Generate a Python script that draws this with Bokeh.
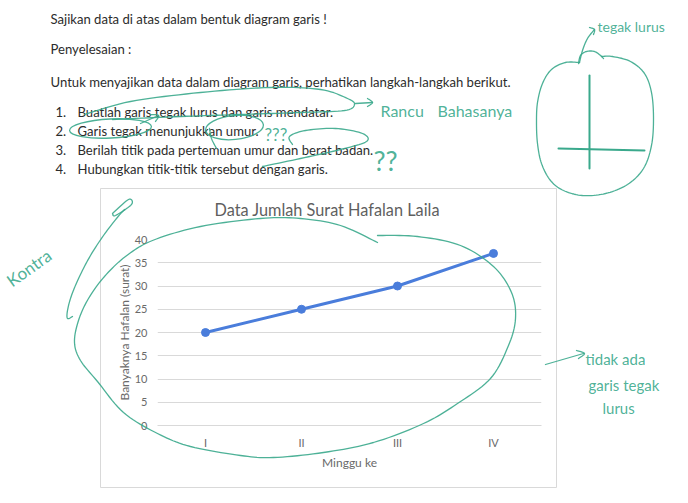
import numpy as np
from bokeh.plotting import figure
from bokeh.models import Range1d, FactorRange, FixedTicker
from bokeh.layouts import column
from bokeh.embed import file_html
from bokeh.resources import INLINE
from bokeh.core.properties import value

# ---- chart data -------------------------------------------------------
weeks = ["I", "II", "III", "IV"]
surat = [20, 25, 30, 37]
y_ticks = [0, 5, 10, 15, 20, 25, 30, 35, 40]

chart_title = "Data Jumlah Surat Hafalan Laila"
x_title = "Minggu ke"
y_title = "Banyaknya Hafalan (surat)"

# ---- worksheet text ---------------------------------------------------
heading = "Sajikan data di atas dalam bentuk diagram garis !"
answer_label = "Penyelesaian :"
intro = "Untuk menyajikan data dalam diagram garis, perhatikan langkah-langkah berikut."
steps = [
    "Buatlah garis tegak lurus dan garis mendatar.",
    "Garis tegak menunjukkan umur.",
    "Berilah titik pada pertemuan umur dan berat badan.",
    "Hubungkan titik-titik tersebut dengan garis.",
]

# ---- handwritten notes (pen strokes in page pixels) -------------------
notes = [
    ("tegak lurus", 597, 26, 14, 0.0),
    ("Rancu", 380, 110, 16, 0.0),
    ("Bahasanya", 437, 110, 16, 0.0),
    ("???", 264, 134, 17, 0.0),
    ("??", 373, 160, 27, 0.0),
    ("Kontra", 8, 282, 17, 0.62),
    ("tidak ada", 585, 358, 15, 0.0),
    ("garis tegak", 588, 384, 15, 0.0),
    ("lurus", 602, 407, 15, 0.0),
]

strokes = {
    "chart_loop": [(377, 242), (340, 225), (300, 218), (260, 218), (200, 226), (152, 240),
                   (125, 256), (104, 276), (88, 298), (78, 320), (74, 342), (80, 360),
                   (97, 381), (123, 412), (157, 433), (190, 446), (240, 455), (273, 457),
                   (323, 452), (373, 442), (423, 423), (457, 403), (490, 378), (508, 345),
                   (515, 318), (511, 292), (493, 266), (460, 245), (417, 236), (377, 235)],
    "kontra_arrow": [(72, 316), (67, 318), (67, 310), (71, 295), (79, 276), (90, 255),
                     (103, 235), (116, 218), (124, 209)],
    "kontra_head": [(112, 213), (128, 199), (131, 204), (115, 215), (112, 213)],
    "axes_blob": [(579, 62), (565, 62), (551, 69), (542, 83), (537, 102), (536, 122),
                  (537, 143), (541, 163), (550, 180), (563, 190), (582, 195), (605, 193),
                  (627, 184), (643, 168), (651, 145), (653, 118), (651, 92), (644, 73),
                  (630, 61), (612, 56), (601, 56)],
    "blob_hook": [(578, 63), (580, 55), (586, 51), (594, 51), (600, 55), (603, 58)],
    "tegak_arrow": [(579, 62), (582, 50), (587, 38), (594, 29)],
    "tegak_head": [(589, 27), (594, 29), (593, 34)],
    "item1_loop": [(84, 114), (130, 101), (200, 92), (270, 87), (320, 89), (347, 98),
                   (354, 104), (344, 110), (300, 112), (240, 114), (180, 116), (112, 119)],
    "item1_arrow": [(140, 123), (158, 115)],
    "item1_head": [(150, 114), (158, 115), (155, 121)],
    "rancu_arrow": [(355, 103), (372, 102)],
    "rancu_head": [(367, 98), (372, 102), (367, 106)],
    "umur_tail": [(209, 128), (211, 138), (216, 148)],
    "badan_loop": [(262, 166), (300, 158), (340, 149), (366, 141), (362, 133), (335, 128),
                   (305, 130), (289, 136), (292, 144)],
    "note_arrow": [(545, 364), (583, 353)],
    "note_head": [(576, 350), (584, 353), (578, 358)],
}
cross_strokes = {
    "vertical": [(589, 75), (589, 168)],
    "horizontal": [(558, 148), (644, 150)],
}
ellipses = [  # cx, cy, w, h, angle
    (110, 128, 82, 19, 0.05),
    (234, 127, 58, 24, 0.1),
]

W, H = 688, 503
BOX_L, BOX_T, BOX_R, BOX_B = 100, 188, 556, 487
CHART_TOP = 170          # chart canvas starts a little above its frame box
FRAME_TOP = 239
INK = "#3aa98c"
TEXT = "#2c2c2c"
AXIS_TEXT = "#6a6a6a"
FONT = "Lato"
BODY_SIZE = "13.1px"


def smooth(points, n=10):
    """Catmull-Rom pass through the pen points so strokes look hand drawn."""
    pts = np.asarray(points, dtype=float)
    if len(pts) < 3:
        return pts[:, 0], pts[:, 1]
    P = np.vstack([pts[0], pts, pts[-1]])
    out = []
    for i in range(1, len(P) - 2):
        p0, p1, p2, p3 = P[i - 1], P[i], P[i + 1], P[i + 2]
        for t in np.linspace(0, 1, n, endpoint=False):
            t2, t3 = t * t, t * t * t
            out.append(0.5 * (2 * p1 + (-p0 + p2) * t
                              + (2 * p0 - 5 * p1 + 4 * p2 - p3) * t2
                              + (-p0 + 3 * p1 - 3 * p2 + p3) * t3))
    out.append(P[-2])
    out = np.array(out)
    return out[:, 0], out[:, 1]


# ---- the line chart ----------------------------------------------------
chart = figure(width=BOX_R - BOX_L, height=BOX_B - CHART_TOP,
               x_range=FactorRange(*weeks, range_padding=0),
               y_range=Range1d(0, 40),
               output_backend="svg", toolbar_location=None,
               min_border_left=57, min_border_right=15,
               min_border_top=FRAME_TOP - CHART_TOP, min_border_bottom=62)
chart.frame_align = False
chart.outline_line_color = None
chart.background_fill_color = "white"
chart.border_fill_color = "white"

chart.title.text = chart_title
chart.title.align = "left"
chart.title.offset = 57
chart.title.standoff = 42
chart.title.text_font = FONT
chart.title.text_font_size = "16.3px"
chart.title.text_font_style = "normal"
chart.title.text_color = "#5f5f5f"

for ax in (chart.xaxis[0], chart.yaxis[0]):
    ax.major_tick_line_color = None
    ax.minor_tick_line_color = None
    ax.major_tick_out = 0
    ax.major_tick_in = 0
    ax.major_label_text_font = FONT
    ax.major_label_text_font_size = "11px"
    ax.major_label_text_color = AXIS_TEXT
    ax.axis_label_text_font = FONT
    ax.axis_label_text_font_size = "12px"
    ax.axis_label_text_font_style = "normal"
    ax.axis_label_text_color = AXIS_TEXT

chart.yaxis.ticker = FixedTicker(ticks=y_ticks)
chart.yaxis.axis_line_color = None
chart.yaxis.major_label_standoff = 10
chart.yaxis.axis_label = y_title
chart.yaxis.axis_label_standoff = 0

chart.xaxis.axis_line_color = "#d9d9d9"
chart.xaxis.major_label_standoff = 10
chart.xaxis.axis_label = x_title
chart.xaxis.axis_label_standoff = 3

chart.xgrid.visible = False
chart.ygrid.ticker = FixedTicker(ticks=y_ticks)
chart.ygrid.grid_line_color = "#d9d9d9"

chart.line(weeks, surat, line_width=3, line_color="#4a7ddb", line_cap="round")
chart.scatter(weeks, surat, size=8, fill_color="#4a7ddb", line_color="#4a7ddb")

# ---- the worksheet page (pixel coordinates, y downwards) ---------------
page = figure(width=W, height=H, x_range=Range1d(0, W), y_range=Range1d(H, 0),
              x_axis_location=None, y_axis_location=None,
              output_backend="svg", toolbar_location=None, min_border=0)
page.frame_align = False
page.grid.visible = False
page.outline_line_color = None
page.background_fill_alpha = 0
page.border_fill_alpha = 0

body_x = [50, 50, 50]
body_y = [18, 48, 81]
page.text(x=body_x, y=body_y, text=[heading, answer_label, intro],
          text_font=value(FONT), text_font_size=BODY_SIZE, text_color=TEXT,
          text_baseline="alphabetic")
step_y = [111, 130, 149, 168]
page.text(x=[55] * len(steps), y=step_y, text=[f"{i + 1}." for i in range(len(steps))],
          text_font=value(FONT), text_font_size=BODY_SIZE, text_color=TEXT,
          text_baseline="alphabetic")
page.text(x=[77] * len(steps), y=step_y, text=steps,
          text_font=value(FONT), text_font_size=BODY_SIZE, text_color=TEXT,
          text_baseline="alphabetic")
# the scan is cropped through the first line
page.quad(left=0, right=W, top=0, bottom=11.5, fill_color="white", line_color=None)

# chart frame
page.quad(left=BOX_L, right=BOX_R, top=BOX_T, bottom=BOX_B,
          fill_alpha=0, line_color="#d9d9d9", line_width=1)

# pen marks
for pts in strokes.values():
    xs, ys = smooth(pts)
    page.line(xs, ys, line_color=INK, line_width=1.3, line_alpha=0.9,
              line_join="round", line_cap="round")
for pts in cross_strokes.values():
    xs, ys = zip(*pts)
    page.line(list(xs), list(ys), line_color=INK, line_width=2,
              line_join="round", line_cap="round")
page.ellipse(x=[e[0] for e in ellipses], y=[e[1] for e in ellipses],
             width=[e[2] for e in ellipses], height=[e[3] for e in ellipses],
             angle=[e[4] for e in ellipses], fill_alpha=0,
             line_color=INK, line_width=1.3, line_alpha=0.9)
for txt, x, y, size, ang in notes:
    page.text(x=[x], y=[y], text=[txt], angle=ang, text_font=value(FONT),
              text_font_size=f"{size}px", text_color=INK, text_alpha=0.9,
              text_baseline="alphabetic")

chart.margin = (CHART_TOP, 0, 0, BOX_L)
page.margin = (-BOX_B, 0, 0, 0)
layout = column(chart, page, spacing=0)

open("out.html", "w").write(file_html(layout, INLINE))
